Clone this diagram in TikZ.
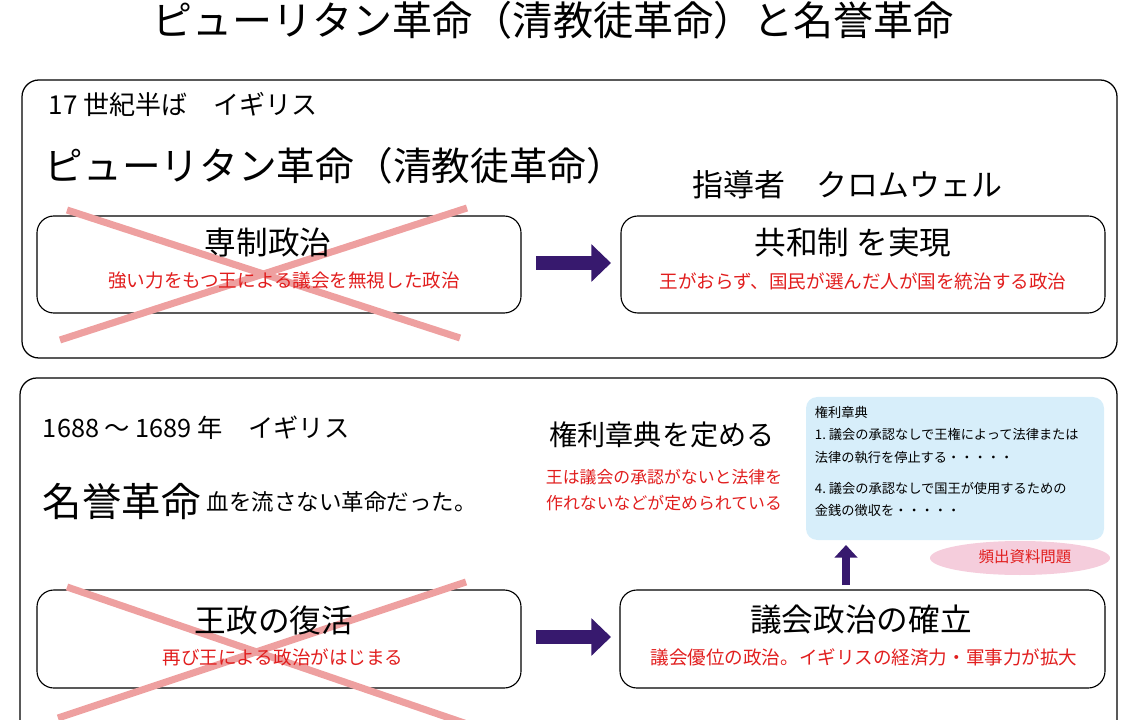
\documentclass[tikz,border=0pt]{standalone}
\usepackage{fontspec}
\setmainfont{Noto Sans CJK JP}
\usetikzlibrary{arrows.meta,shapes.geometric}
\definecolor{crossred}{RGB}{238,160,160}
\definecolor{arrowpurple}{RGB}{55,25,110}
\definecolor{textred}{RGB}{225,30,30}
\definecolor{notebg}{RGB}{215,238,250}
\definecolor{tagbg}{RGB}{245,205,220}
\tikzset{
  frame/.style={draw,rounded corners=12pt,line width=0.9pt},
  card/.style={draw,rounded corners=12pt,line width=0.8pt},
  cross/.style={crossred,line width=5pt},
  flow/.style={-{Triangle[length=14pt,width=26pt]},arrowpurple,line width=10pt},
  head/.style={font=\fontsize{22.5}{26}\selectfont},
  sub/.style={textred,font=\fontsize{13.2}{15}\selectfont},
}
\begin{document}
\begin{tikzpicture}[x=0.025cm,y=-0.025cm]
\useasboundingbox (0,0) rectangle (1122,720);
% Title
\node (title) at (553,20) {\fontsize{28.5}{32}\selectfont ピューリタン革命（清教徒革命）と名誉革命};
% Puritan revolution
\draw[frame] (22,80) rectangle (1117,358);
\node[anchor=west] (era1) at (44,104) {\fontsize{18.5}{21}\selectfont 17 世紀半ば　イギリス};
\node[anchor=west] (rev1) at (40,166) {\fontsize{27.5}{32}\selectfont ピューリタン革命（清教徒革命）};
\node[anchor=west] (lead) at (688,185) {\fontsize{22}{26}\selectfont 指導者　クロムウェル};
\draw[card] (37,216) rectangle (521,313);
\draw[cross] (60,340) -- (467,208);
\draw[cross] (67,210) -- (460,338);
\node[head] (desp) at (268,243) {専制政治};
\node[sub] (despsub) at (284,281) {強い力をもつ王による議会を無視した政治};
\coordinate (a1) at (536,263);
\coordinate (b1) at (611,263);
\draw[flow] (a1) -- (b1);
\draw[card] (621,216) rectangle (1105,313);
\node[head] (rep) at (853,243) {共和制 を実現};
\node[sub] (repsub) at (863,281) {王がおらず、国民が選んだ人が国を統治する政治};
% Glorious revolution
\draw[frame] (20,740) -- (20,378) -- (1117,378) -- (1117,740);
\node[anchor=west] (era2) at (38,428) {\fontsize{18}{21}\selectfont 1688 ～ 1689 年　イギリス};
\node[anchor=west] (rev2) at (38,502) {\fontsize{28}{33}\selectfont 名誉革命};
\node[anchor=west] (blood) at (202,502) {\fontsize{16}{19}\selectfont 血を流さない革命だった。};
\node (bill) at (662,435) {\fontsize{20}{24}\selectfont 権利章典を定める};
\node[sub,align=center,font=\fontsize{12}{14}\selectfont] (billsub) at (664,490) {王は議会の承認がないと法律を\\[5pt]作れないなどが定められている};
\fill[notebg,rounded corners=8pt] (806,397) rectangle (1104,540);
\node[anchor=north west,align=left,font=\fontsize{9.4}{16}\selectfont] (note) at (810,401)
  {権利章典\\1.\ 議会の承認なしで王権によって法律または\\法律の執行を停止する・・・・・\\[6pt]4.\ 議会の承認なしで国王が使用するための\\金銭の徴収を・・・・・};
\node[ellipse,fill=tagbg,minimum width=180*0.025cm,minimum height=34*0.025cm] (tag) at (1020,558) {};
\node[textred,font=\fontsize{11}{13}\selectfont] (tagtext) at (1025,557) {頻出資料問題};
\coordinate (a3) at (846,585);
\coordinate (b3) at (846,545);
\draw[-{Triangle[length=9pt,width=16pt]},arrowpurple,line width=5pt] (a3) -- (b3);
\draw[card] (37,590) rectangle (521,688);
\draw[cross] (58,718) -- (466,582);
\draw[cross] (67,587) -- (470,725);
\node[head] (resto) at (274,620) {王政の復活};
\node[sub] (restosub) at (283,657) {再び王による政治がはじまる};
\coordinate (a2) at (536,637);
\coordinate (b2) at (611,637);
\draw[flow] (a2) -- (b2);
\draw[card] (620,590) rectangle (1105,688);
\node[head] (parl) at (861,620) {議会政治の確立};
\node[sub] (parlsub) at (864,657) {議会優位の政治。イギリスの経済力・軍事力が拡大};
\end{tikzpicture}
\end{document}
